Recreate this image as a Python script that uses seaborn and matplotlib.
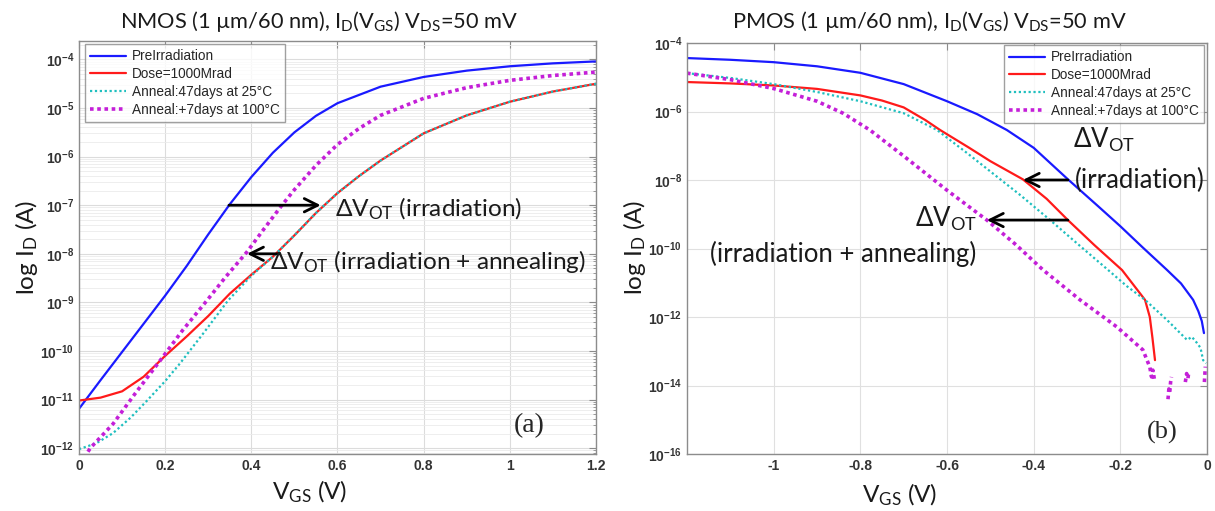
import numpy as np
import pandas as pd
import matplotlib
matplotlib.use("Agg")
import matplotlib.pyplot as plt
import seaborn as sns
from matplotlib.ticker import FixedLocator, FuncFormatter, NullFormatter

# ---------------- data (V_GS in volts, log10 of I_D in A) ----------------
labels = ["PreIrradiation", "Dose=1000Mrad", "Anneal:47days at 25°C", "Anneal:+7days at 100°C"]

# NMOS
n_pre_v = [0, 0.05, 0.1, 0.15, 0.2, 0.25, 0.3, 0.35, 0.4, 0.45, 0.5, 0.55, 0.6, 0.7, 0.8, 0.9, 1.0, 1.1, 1.2]
n_pre_log = [-11.19, -10.6, -10.02, -9.44, -8.86, -8.25, -7.6, -6.98, -6.42, -5.92, -5.5, -5.16, -4.9,
             -4.56, -4.36, -4.23, -4.14, -4.08, -4.04]
n_dose_v = [0, 0.05, 0.1, 0.15, 0.2, 0.25, 0.3, 0.35, 0.4, 0.45, 0.5, 0.55, 0.6, 0.65, 0.7, 0.8, 0.9, 1.0,
            1.1, 1.2]
n_dose_log = [-11.02, -10.96, -10.83, -10.53, -10.1, -9.7, -9.28, -8.82, -8.43, -8.06, -7.62, -7.16, -6.75,
              -6.4, -6.08, -5.52, -5.15, -4.87, -4.66, -4.5]
n_ann25_v = [0, 0.04, 0.079, 0.12, 0.158, 0.2, 0.234, 0.29, 0.346, 0.4, 0.45, 0.5, 0.55, 0.6, 0.65, 0.7,
             0.8, 0.9, 1.0, 1.1, 1.2]
n_ann25_log = [-12.02, -11.9, -11.69, -11.37, -11.02, -10.62, -10.26, -9.62, -8.96, -8.45, -8.06, -7.62,
               -7.16, -6.75, -6.4, -6.08, -5.52, -5.15, -4.87, -4.66, -4.5]
n_ann100_v = [0.012, 0.026, 0.079, 0.13, 0.188, 0.24, 0.297, 0.34, 0.39, 0.43, 0.471, 0.5, 0.55, 0.6, 0.65,
              0.7, 0.8, 0.9, 1.0, 1.1, 1.2]
n_ann100_log = [-12.2, -12.0, -11.5, -10.88, -10.2, -9.58, -8.96, -8.48, -7.96, -7.48, -7.0, -6.68, -6.18,
                -5.75, -5.42, -5.15, -4.8, -4.58, -4.43, -4.33, -4.26]

# PMOS
p_pre_v = [-1.2, -1.1, -1.0, -0.9, -0.8, -0.7, -0.6, -0.53, -0.462, -0.4, -0.321, -0.25, -0.2, -0.15,
           -0.092, -0.06, -0.032, -0.02, -0.012, -0.007]
p_pre_log = [-4.44, -4.49, -4.56, -4.68, -4.87, -5.2, -5.7, -6.08, -6.54, -7.06, -7.98, -8.78, -9.35, -9.95,
             -10.63, -11.02, -11.5, -11.83, -12.12, -12.47]
p_dose_v = [-1.2, -1.1, -1.0, -0.9, -0.8, -0.75, -0.7, -0.65, -0.616, -0.55, -0.5, -0.425, -0.37, -0.321,
            -0.26, -0.196, -0.143, -0.132, -0.126, -0.12]
p_dose_log = [-5.14, -5.18, -5.24, -5.34, -5.53, -5.68, -5.88, -6.25, -6.54, -7.05, -7.45, -7.98, -8.55,
              -9.17, -9.9, -10.63, -11.5, -12.0, -12.6, -13.26]
p_ann25_v = [-1.2, -1.1, -1.0, -0.9, -0.8, -0.7, -0.623, -0.55, -0.5, -0.43, -0.362, -0.3, -0.228, -0.185,
             -0.143, -0.092, -0.046, -0.035, -0.023, -0.015, -0.009, -0.002]
p_ann25_log = [-4.88, -5.02, -5.2, -5.43, -5.7, -6.05, -6.54, -7.25, -7.75, -8.45, -9.17, -9.85, -10.63,
               -11.1, -11.5, -12.09, -12.67, -12.58, -12.76, -12.9, -13.26, -13.35]
p_ann100_v = [-1.2, -1.1, -1.0, -0.9, -0.84, -0.778, -0.7, -0.6, -0.508, -0.44, -0.378, -0.293, -0.208,
              -0.148, -0.132, -0.128, -0.125, -0.121]
p_ann100_log = [-4.88, -5.07, -5.33, -5.7, -6.05, -6.54, -7.3, -8.3, -9.17, -9.9, -10.63, -11.5, -12.29,
                -12.96, -13.46, -13.75, -13.55, -13.85]
# scattered noisy fragments of the 100°C curve near V_GS = 0
p_noise_v = [-0.09, -0.088, -0.086, -0.084, -0.082, -0.05, -0.047, -0.044, -0.042, -0.006, -0.005, -0.004]
p_noise_log = [-14.4, -14.1, -14.2, -13.9, -13.75, -13.9, -13.65, -13.8, -13.6, -13.9, -13.7, -13.45]
p_noise_seg = [1, 1, 1, 1, 1, 2, 2, 2, 2, 3, 3, 3]

# ---------------- style ----------------
sns.set_style("white")
plt.rcParams["font.family"] = ["Liberation Sans", "DejaVu Sans"]
plt.rcParams["mathtext.fontset"] = "custom"
plt.rcParams["mathtext.rm"] = "Liberation Sans"

colors = ["#1a1aff", "#ff1a1a", "#1fbfbf", "#c41fd8"]
lws = [1.6, 1.6, 1.6, 2.6]
styles = ["-", "-", (0, (1, 1.2)), (0, (1, 1))]

W, H = 1215, 511
fig = plt.figure(figsize=(W / 100, H / 100), dpi=100)
axL = fig.add_axes([79 / W, 1 - 454 / H, (596 - 79) / W, (454 - 41) / H])
axR = fig.add_axes([687 / W, 1 - 454 / H, (1207 - 687) / W, (454 - 43) / H])


def draw(ax, vs, logs):
    for v, lg, c, lw, ls, lab in zip(vs, logs, colors, lws, styles, labels):
        df = pd.DataFrame({"V": v, "I": 10.0 ** np.asarray(lg)})
        sns.lineplot(data=df, x="V", y="I", ax=ax, color=c, lw=lw, linestyle=ls,
                     label=lab, sort=False, estimator=None)


draw(axL, [n_pre_v, n_dose_v, n_ann25_v, n_ann100_v], [n_pre_log, n_dose_log, n_ann25_log, n_ann100_log])
draw(axR, [p_pre_v, p_dose_v, p_ann25_v, p_ann100_v], [p_pre_log, p_dose_log, p_ann25_log, p_ann100_log])
noise = pd.DataFrame({"V": p_noise_v, "I": 10.0 ** np.asarray(p_noise_log), "seg": p_noise_seg})
sns.lineplot(data=noise, x="V", y="I", units="seg", estimator=None, sort=False, ax=axR,
             color=colors[3], lw=lws[3], linestyle=styles[3], legend=False)

frame_c = "#8c8c8c"


def pow_fmt(y, pos):
    e = int(round(np.log10(y)))
    return r"$\mathregular{10^{%d}}$" % e


# left axes
axL.set_yscale("log")
axL.set_xlim(0, 1.2)
axL.set_ylim(10 ** -12.12, 10 ** -3.62)
axL.xaxis.set_major_locator(FixedLocator([0, 0.2, 0.4, 0.6, 0.8, 1.0, 1.2]))
axL.yaxis.set_major_locator(FixedLocator([10.0 ** e for e in range(-12, -3)]))
axL.yaxis.set_minor_locator(FixedLocator([m * 10.0 ** e for e in range(-13, -3) for m in range(2, 10)
                                          if 10 ** -12.12 < m * 10.0 ** e < 10 ** -3.62]))
axL.grid(which="major", color="#dcdcdc", lw=0.8)
axL.grid(which="minor", axis="y", color="#ebebeb", lw=0.6)

# right axes
axR.set_yscale("log")
axR.set_xlim(-1.2, 0)
axR.set_ylim(1e-16, 1e-4)
axR.xaxis.set_major_locator(FixedLocator([-1.0, -0.8, -0.6, -0.4, -0.2, 0]))
axR.yaxis.set_major_locator(FixedLocator([10.0 ** e for e in range(-16, -3, 2)]))
axR.yaxis.set_minor_locator(FixedLocator([]))
axR.grid(which="major", color="#e0e0e0", lw=0.8)

for ax in (axL, axR):
    ax.set_xlabel("")
    ax.set_ylabel("")
    ax.xaxis.label.set_visible(False)
    ax.yaxis.label.set_visible(False)
    ax.xaxis.set_major_formatter(FuncFormatter(lambda x, p: "%g" % x))
    ax.yaxis.set_major_formatter(FuncFormatter(pow_fmt))
    ax.yaxis.set_minor_formatter(NullFormatter())
    for s in ax.spines.values():
        s.set_color(frame_c)
        s.set_linewidth(1.0)
    ax.tick_params(which="both", direction="in", top=True, right=True, colors=frame_c,
                   labelcolor="#333333", labelsize=10)
    ax.tick_params(which="major", length=5)
    ax.tick_params(which="minor", length=2.5)
    for lbl in ax.get_xticklabels() + ax.get_yticklabels():
        lbl.set_fontweight("bold")

# legends
leg_kw = dict(frameon=True, fancybox=False, edgecolor="#888888",
              prop=dict(family="Liberation Sans", size=9.8), handlelength=2.6, borderpad=0.4,
              labelspacing=0.28, handletextpad=0.45)
legL = axL.legend(loc="upper left", bbox_to_anchor=(6 / 517, 1 - 3 / 413), borderaxespad=0, **leg_kw)
legL.get_frame().set_linewidth(1.0)
legR = axR.legend(loc="upper right", bbox_to_anchor=(1 - 3 / 520, 1 - 2 / 411), borderaxespad=0, **leg_kw)
legR.get_frame().set_linewidth(1.0)

# titles and axis labels
ttl = dict(family="Lato", size=15.7, color="#1a1a1a")
fig.text(319 / W, 1 - 21 / H, r"NMOS (1 µm/60 nm), $\mathregular{I_D(V_{GS})}$ $\mathregular{V_{DS}}$=50 mV",
         ha="center", va="center", **ttl)
fig.text(929 / W, 1 - 21 / H, r"PMOS (1 µm/60 nm), $\mathregular{I_D(V_{GS})}$ $\mathregular{V_{DS}}$=50 mV",
         ha="center", va="center", **ttl)
lab = dict(family="Lato", size=17.5, color="#1a1a1a")
fig.text(310 / W, 1 - 492 / H, r"$\mathregular{V_{GS}}$ (V)", ha="center", va="center", **lab)
fig.text(900 / W, 1 - 495 / H, r"$\mathregular{V_{GS}}$ (V)", ha="center", va="center", **lab)
fig.text(27 / W, 1 - 247 / H, r"log $\mathregular{I_D}$ (A)", ha="center", va="center", rotation=90, **lab)
fig.text(635 / W, 1 - 247 / H, r"log $\mathregular{I_D}$ (A)", ha="center", va="center", rotation=90, **lab)

# annotations
arr = dict(arrowstyle="->", lw=2.0, color="black", mutation_scale=24, shrinkA=0, shrinkB=0)
annL = dict(family="Lato", size=17.6, color="#1a1a1a")
annR = dict(family="Lato", size=18.5, color="#1a1a1a")
axL.annotate("", xy=(0.561, 1e-7), xytext=(0.348, 1e-7), arrowprops=arr)
axL.annotate("", xy=(0.390, 1e-8), xytext=(0.466, 1e-8), arrowprops=arr)
axL.text(0.594, 10 ** -7.07, r"Δ$\mathregular{V_{OT}}$ (irradiation)", ha="left", va="center", **annL)
axL.text(0.443, 10 ** -8.16, r"Δ$\mathregular{V_{OT}}$ (irradiation + annealing)", ha="left", va="center", **annL)
axL.text(1.046, 10 ** -11.53, "(a)", ha="center", va="center", family="Liberation Serif", size=20)

axR.annotate("", xy=(-0.425, 1e-8), xytext=(-0.321, 1e-8), arrowprops=arr)
axR.annotate("", xy=(-0.508, 10 ** -9.17), xytext=(-0.321, 10 ** -9.17), arrowprops=arr)
axR.text(-0.309, 10 ** -6.83, r"Δ$\mathregular{V_{OT}}$", ha="left", va="center", **annR)
axR.text(-0.305, 10 ** -8.0, "(irradiation)", ha="left", va="center", **annR)
axR.text(-0.531, 10 ** -9.14, r"Δ$\mathregular{V_{OT}}$", ha="right", va="center", **annR)
axR.text(-1.147, 10 ** -10.16, "(irradiation + annealing)", ha="left", va="center", **annR)
axR.text(-0.104, 10 ** -15.36, "(b)", ha="center", va="center", family="Liberation Serif", size=19)

fig.savefig("out.png", dpi=100)
